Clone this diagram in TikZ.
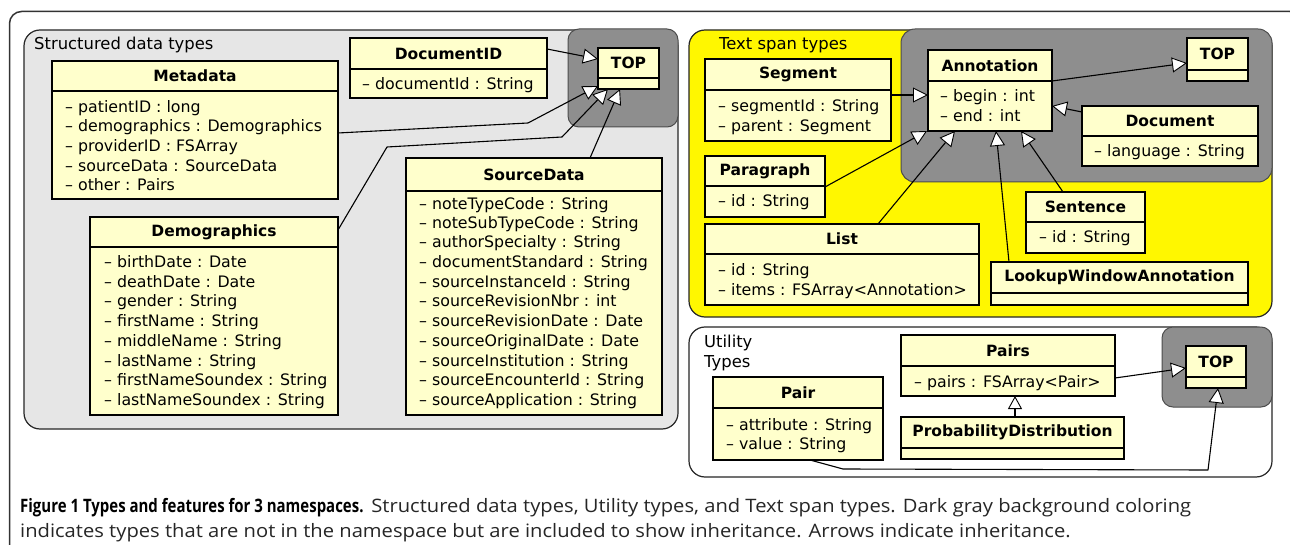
\documentclass[tikz,border=0pt]{standalone}
\usepackage{fontspec}
\setmainfont{DejaVu Sans}
\newfontfamily\capreg[FakeStretch=1.09]{Open Sans}
\newfontfamily\capbold[FakeStretch=0.81]{Open Sans}
\usetikzlibrary{arrows.meta,fit,calc}
\definecolor{clsfill}{HTML}{FFFFCC}
\definecolor{panelgray}{HTML}{E6E6E6}
\definecolor{darkgray}{HTML}{8E8E8E}
\definecolor{yellowbg}{HTML}{FFF700}
\tikzset{
  cls/.style={draw=black, line width=2.6pt, fill=clsfill, inner sep=0pt, outer sep=0pt},
  sepl/.style={draw=black, line width=1.3pt},
  ttl/.style={font=\fontsize{15.5}{18}\selectfont\bfseries, inner sep=0pt},
  atr/.style={font=\fontsize{15.8}{18}\selectfont, anchor=west, inner sep=0pt, text height=11.5pt, text depth=3pt},
  lbl/.style={font=\fontsize{16.4}{19}\selectfont, anchor=west, inner sep=0pt, text height=11.5pt, text depth=3pt},
  panel/.style={draw=black!85, line width=1.2pt, rounded corners=16pt},
  darkbox/.style={draw=black!70, line width=1pt, fill=darkgray, rounded corners=11pt},
  inh/.style={draw=black, line width=1.1pt, line join=round,
    -{Triangle[length=15pt,width=15pt,fill=white,line width=0.9pt]}},
  inhs/.style={draw=black, line width=1.1pt,
    -{Triangle[length=13pt,width=14pt,fill=white,line width=0.9pt]}},
  frame/.style={draw=black!80, line width=1.5pt, rounded corners=12pt},
}
\newcommand\umlcls[7]{%
  \node[cls, fit={(#2,#3) (#4,#5)}] (#1) {};
  \draw[sepl] (#2,#6) -- (#4,#6);
  \node[ttl] at ($(#2,#3)!0.5!(#4,#6)$) {#7};
}
\newcommand\attr[3]{\node[atr] at (#1,#2) {#3};}
\begin{document}
\begin{tikzpicture}[x=1pt,y=-1pt]
\useasboundingbox (0,0) rectangle (1290,545);
\fill[white] (0,0) rectangle (1290,545);
% outer frame
\draw[frame] (9.5,580) -- (9.5,11.5) -- (1302,11.5) -- (1302,580);

% ===== Structured data types =====
\draw[panel, fill=panelgray] (24,30) rectangle (678,429);
\draw[darkbox] (568,29) rectangle (678,127);
\node[lbl] (lstruct) at (34,45) {Structured data types};

\umlcls{docid}{350}{38}{547}{98}{69}{DocumentID}
\attr{362}{85}{– documentId : String}

\umlcls{topA}{598}{48}{659}{89}{78}{TOP}

\umlcls{meta}{52}{61}{338}{199}{91}{Metadata}
\attr{65}{108}{– patientID : long}
\attr{65}{127}{– demographics : Demographics}
\attr{65}{147}{– providerID : FSArray}
\attr{65}{167}{– sourceData : SourceData}
\attr{65}{186}{– other : Pairs}

\umlcls{demo}{90}{217}{338}{415}{247}{Demographics}
\attr{104}{263}{– birthDate : Date}
\attr{104}{283}{– deathDate : Date}
\attr{104}{302}{– gender : String}
\attr{104}{322}{– firstName : String}
\attr{104}{342}{– middleName : String}
\attr{104}{362}{– lastName : String}
\attr{104}{381}{– firstNameSoundex : String}
\attr{104}{401}{– lastNameSoundex : String}

\umlcls{src}{406}{158}{662}{415}{191}{SourceData}
\attr{419}{205}{– noteTypeCode : String}
\attr{419}{224}{– noteSubTypeCode : String}
\attr{419}{243}{– authorSpecialty : String}
\attr{419}{263}{– documentStandard : String}
\attr{419}{283}{– sourceInstanceId : String}
\attr{419}{302}{– sourceRevisionNbr : int}
\attr{419}{322}{– sourceRevisionDate : Date}
\attr{419}{342}{– sourceOriginalDate : Date}
\attr{419}{362}{– sourceInstitution : String}
\attr{419}{381}{– sourceEncounterId : String}
\attr{419}{401}{– sourceApplication : String}

\draw[inh] (docid.east |- 0,49) -- (topA.west |- 0,59);
\draw[inh] (meta.east |- 0,133) -- (528,123) -- ([yshift=3pt]topA.south west);
\draw[inh] (demo.east |- 0,230) -- (387,147) -- (562,137) -- ([xshift=10pt]topA.south west);
\draw[inh] (src.north -| 590,0) -- ([xshift=22pt]topA.south west);

% ===== Text span types =====
\draw[panel, fill=yellowbg] (689,30) rectangle (1272,317);
\draw[darkbox, rounded corners=14pt] (901,29) rectangle (1272,182);
\node[lbl] (ltext) at (719,45) {Text span types};

\umlcls{ann}{928}{50}{1052}{131}{81}{Annotation}
\attr{940}{97}{– begin : int}
\attr{940}{117}{– end : int}

\umlcls{topB}{1187}{38}{1248}{81}{70}{TOP}

\umlcls{seg}{705}{59}{891}{141}{90}{Segment}
\attr{718}{107}{– segmentId : String}
\attr{718}{127}{– parent : Segment}

\umlcls{para}{705}{156}{825}{217}{186}{Paragraph}
\attr{718}{202}{– id : String}

\umlcls{list}{705}{224}{979}{305}{254}{List}
\attr{718}{271}{– id : String}
\attr{718}{291}{– items : FSArray<Annotation>}

\umlcls{doc}{1082}{106}{1258}{166}{136}{Document}
\attr{1094}{152}{– language : String}

\umlcls{sent}{1026}{192}{1145}{253}{222}{Sentence}
\attr{1039}{238}{– id : String}

\umlcls{lwa}{991}{262}{1248}{305}{293}{LookupWindowAnnotation}

\draw[inh] (seg.east |- 0,95) -- (ann.west |- 0,95);
\draw[inh] (ann.east |- 0,81) -- (topB.west |- 0,63);
\draw[inh] (doc.west |- 0,112) -- (ann.east |- 0,106);
\draw[inh] (para.east |- 0,187) -- ([xshift=-1pt]ann.south west);
\draw[inh] (list.north -| 878,0) -- (ann.south -| 955,0);
\draw[inh] (lwa.north -| 1009,0) -- (ann.south -| 996,0);
\draw[inh] (sent.north -| 1063,0) -- (ann.south -| 1021,0);

% ===== Utility types =====
\draw[panel, fill=white] (689,327) rectangle (1272,477);
\draw[darkbox] (1162,327) rectangle (1272,407);
\node[lbl] (lutil1) at (704,343) {Utility};
\node[lbl] (lutil2) at (704,363) {Types};

\umlcls{topC}{1186}{346}{1246}{388}{377}{TOP}

\umlcls{pairs}{901}{335}{1115}{396}{366}{Pairs}
\attr{914}{383}{– pairs : FSArray<Pair>}

\umlcls{prob}{901}{417}{1124}{459}{448}{ProbabilityDistribution}

\umlcls{pair}{713}{377}{883}{460}{408}{Pair}
\attr{726}{426}{– attribute : String}
\attr{726}{445}{– value : String}

\draw[inh] (pairs.east |- 0,378) -- (topC.west |- 0,368);
\draw[inhs] (prob.north -| 1015,0) -- (pairs.south -| 1015,0);
\draw[inh] (pair.south -| 810,0) -- (843,469) -- (1208,470) -- (topC.south -| 1218,0);

% ===== Caption =====
\node[anchor=base west, inner sep=0pt, font=\fontsize{18.5}{22}\selectfont] (cap1) at (20,512)
  {{\capbold\bfseries Figure 1 Types and features for 3 namespaces.} {\capreg\color{black!85}Structured data types, Utility types, and Text span types. Dark gray background coloring}};
\node[anchor=base west, inner sep=0pt, font=\fontsize{18.5}{22}\selectfont] (cap2) at (20,537)
  {\capreg\color{black!85}indicates types that are not in the namespace but are included to show inheritance. Arrows indicate inheritance.};
\end{tikzpicture}
\end{document}
